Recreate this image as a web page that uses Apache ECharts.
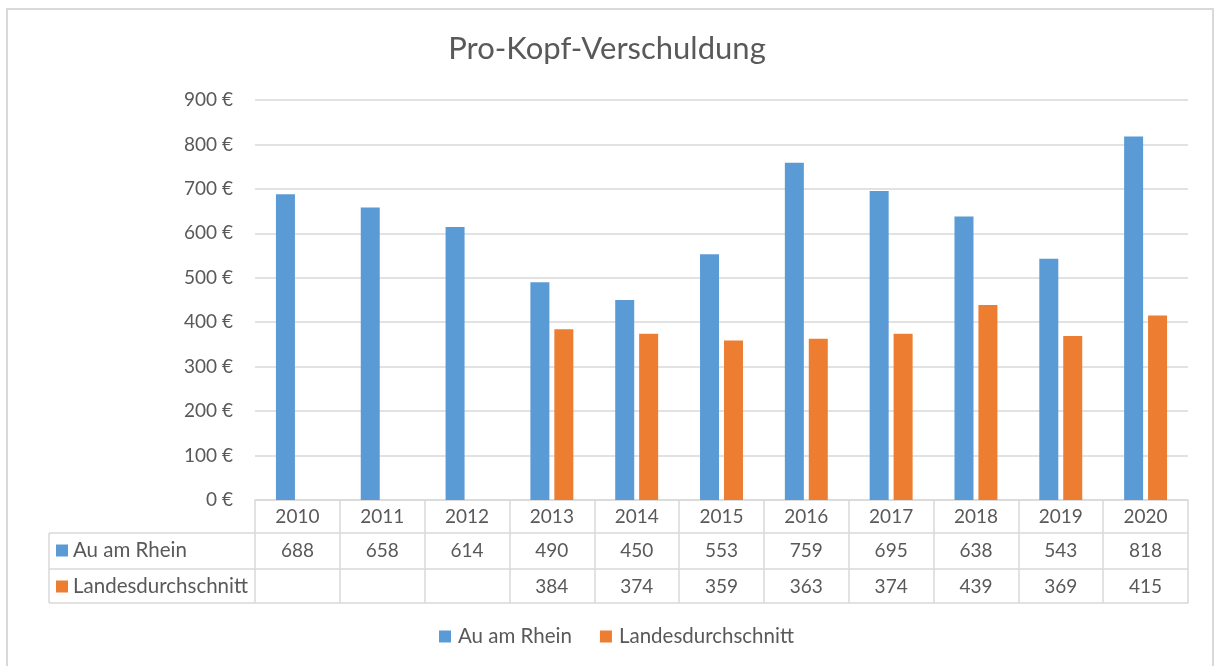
<!DOCTYPE html>
<html>
<head>
<meta charset="utf-8">
<script src="https://cdn.jsdelivr.net/npm/echarts@6/dist/echarts.min.js"></script>
<style>
html,body{margin:0;padding:0;background:#fff;}
#c{width:1214px;height:666px;}
</style>
</head>
<body>
<div id="c"></div>
<script>
const years = ['2010','2011','2012','2013','2014','2015','2016','2017','2018','2019','2020'];
const auAmRhein = [688, 658, 614, 490, 450, 553, 759, 695, 638, 543, 818];
const landesdurchschnitt = [null, null, null, 384, 374, 359, 363, 374, 439, 369, 415];
const seriesNames = ['Au am Rhein', 'Landesdurchschnitt'];
const yTicks = {min: 0, max: 900, interval: 100};

const FONT = 'Lato';
const TXT = '#595959';
const LINE = '#d9d9d9';
const BLUE = '#5B9BD5';
const ORANGE = '#ED7D31';

const chart = echarts.init(document.getElementById('c'));

function tableAxis(offset, tickLen, margin, labelFn) {
  return {
    type: 'category', gridIndex: 0, position: 'bottom', offset: offset,
    data: years, boundaryGap: true,
    axisLine: {show: true, lineStyle: {color: LINE, width: 1.5}},
    axisTick: {show: tickLen > 0, length: tickLen, interval: 0, lineStyle: {color: LINE, width: 1.5}},
    axisLabel: {show: !!labelFn, interval: 0, margin: margin, color: TXT, fontFamily: FONT, fontSize: 19,
      formatter: labelFn || (() => '')},
    splitLine: {show: false}
  };
}

const option = {
  animation: false,
  backgroundColor: '#fff',
  title: {
    text: 'Pro-Kopf-Verschuldung', left: 'center', top: 28,
    textStyle: {color: TXT, fontFamily: FONT, fontSize: 31, fontWeight: 'normal'}
  },
  legend: [
    {
      data: seriesNames, bottom: 14, left: 434, itemWidth: 12, itemHeight: 12, itemGap: 28,
      icon: 'rect',
      textStyle: {color: TXT, fontFamily: FONT, fontSize: 20.5, padding: [0, 0, 0, 2]}
    },
    {
      data: seriesNames, orient: 'vertical', left: 56, top: 540, padding: 0,
      itemWidth: 12, itemHeight: 12, itemGap: 15,
      icon: 'rect', selectedMode: false,
      textStyle: {color: TXT, fontFamily: FONT, fontSize: 20.5, lineHeight: 20}
    }
  ],
  grid: {left: 255, right: 26, top: 100, bottom: 166, containLabel: false},
  xAxis: [
    tableAxis(0, 33, 7, (v) => v),
    tableAxis(33, 36, 8, (v, i) => String(auAmRhein[i])),
    tableAxis(69, 34, 8, (v, i) => landesdurchschnitt[i] == null ? '' : String(landesdurchschnitt[i])),
    tableAxis(103, 0, 8, null)
  ],
  yAxis: {
    type: 'value', min: yTicks.min, max: yTicks.max, interval: yTicks.interval,
    axisLine: {show: false}, axisTick: {show: false},
    axisLabel: {formatter: '{value} €', color: TXT, fontFamily: FONT, fontSize: 19, margin: 22},
    splitLine: {lineStyle: {color: LINE, width: 1.5}}
  },
  series: [
    {name: seriesNames[0], type: 'bar', xAxisIndex: 0, data: auAmRhein, barWidth: 19, barGap: '26%',
     itemStyle: {color: BLUE}},
    {name: seriesNames[1], type: 'bar', xAxisIndex: 0, data: landesdurchschnitt, barWidth: 19, barGap: '26%',
     itemStyle: {color: ORANGE}}
  ],
  graphic: [
    {type: 'rect', silent: true, shape: {x: 7, y: 9, width: 1206, height: 662},
     style: {fill: 'none', stroke: LINE, lineWidth: 2}},
    {type: 'line', silent: true, shape: {x1: 49, y1: 533, x2: 255, y2: 533}, style: {stroke: LINE, lineWidth: 1.5}},
    {type: 'line', silent: true, shape: {x1: 49, y1: 569, x2: 255, y2: 569}, style: {stroke: LINE, lineWidth: 1.5}},
    {type: 'line', silent: true, shape: {x1: 49, y1: 603, x2: 255, y2: 603}, style: {stroke: LINE, lineWidth: 1.5}},
    {type: 'line', silent: true, shape: {x1: 49, y1: 533, x2: 49, y2: 603}, style: {stroke: LINE, lineWidth: 1.5}}
  ]
};
chart.setOption(option);
</script>
</body>
</html>
